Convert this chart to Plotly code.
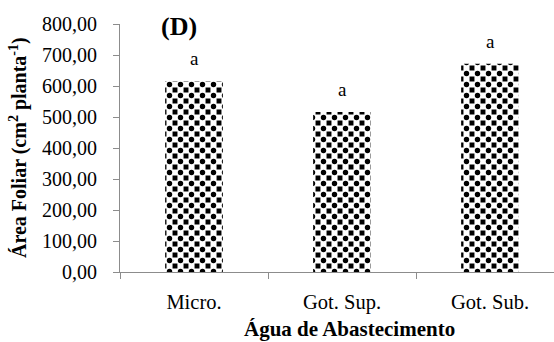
import plotly.graph_objects as go

# Leaf area per water-supply treatment
categories = ["Micro.", "Got. Sup.", "Got. Sub."]
leaf_area = [615, 516, 672]
letters = ["a", "a", "a"]
y_ticks = [0, 100, 200, 300, 400, 500, 600, 700, 800]

W, H = 554, 342
ML, MR, MT, MB = 120, 0, 24, 70
PW = W - ML - MR
PH = H - MT - MB
CAT_PX = 148.0  # pixels per category slot

def px_x(px):
    return (px - ML) / PW

def px_y(py):
    return (H - MB - py) / PH

serif = "Liberation Serif, Times New Roman, serif"
axis_grey = "#8c8c8c"
bar_w = 0.39
tile = 11

fig = go.Figure()

# Checkerboard fill: white crosses on black give squares at the tile corners,
# then a dot pattern fills the tile centres.
fig.add_trace(go.Bar(
    x=categories, y=leaf_area, width=bar_w,
    marker=dict(
        color="black",
        line=dict(width=0),
        pattern=dict(shape="+", fgcolor="white", bgcolor="black",
                     size=tile, solidity=0.8, fillmode="replace",
                     fgopacity=1),
    ),
    hoverinfo="skip",
))
fig.add_trace(go.Bar(
    x=categories, y=leaf_area, width=bar_w,
    marker=dict(
        color="rgba(0,0,0,0)",
        line=dict(width=0),
        pattern=dict(shape=".", fgcolor="black", bgcolor="rgba(0,0,0,0)",
                     size=tile, solidity=0.19, fillmode="overlay",
                     fgopacity=1),
    ),
    hoverinfo="skip",
))

annotations = []
for cat, val, lab in zip(categories, leaf_area, letters):
    annotations.append(dict(
        x=cat, y=val, xref="x", yref="y", text=lab, showarrow=False,
        xanchor="center", yanchor="bottom", yshift=10,
        font=dict(family=serif, size=19, color="black"),
    ))

annotations.append(dict(
    x=px_x(159), y=px_y(26), xref="paper", yref="paper", text="<b>(D)</b>",
    showarrow=False, xanchor="left", yanchor="middle",
    font=dict(family=serif, size=26, color="black"),
))
annotations.append(dict(
    x=px_x(18), y=0.5, xref="paper", yref="paper",
    text="<b>Área Foliar (cm<sup>2</sup> planta<sup>-1</sup>)</b>",
    textangle=-90, showarrow=False, xanchor="center", yanchor="middle",
    font=dict(family=serif, size=20, color="black"),
))
annotations.append(dict(
    x=px_x(349), y=px_y(329), xref="paper", yref="paper",
    text="<b>Água de Abastecimento</b>",
    showarrow=False, xanchor="center", yanchor="middle",
    font=dict(family=serif, size=21, color="black"),
))

fig.update_layout(
    width=W, height=H,
    margin=dict(l=ML, r=MR, t=MT, b=MB, autoexpand=False),
    paper_bgcolor="white", plot_bgcolor="white",
    barmode="overlay",
    showlegend=False,
    separators=",.",
    annotations=annotations,
    font=dict(family=serif, color="black"),
)

fig.update_xaxes(
    type="category",
    range=[-0.5, -0.5 + PW / CAT_PX],
    showgrid=False, zeroline=False,
    showline=True, linecolor=axis_grey, linewidth=1,
    ticks="outside", tickson="boundaries", ticklen=6, tickcolor=axis_grey,
    ticklabelstandoff=11,
    tickfont=dict(family=serif, size=20.5, color="black"),
)
fig.update_yaxes(
    range=[0, 800],
    tickvals=y_ticks, tickformat=".2f",
    showgrid=False, zeroline=False,
    showline=True, linecolor=axis_grey, linewidth=1,
    ticks="outside", ticklen=6, tickcolor=axis_grey,
    ticklabelstandoff=12,
    tickfont=dict(family=serif, size=20, color="black"),
)

fig.write_html("out.html")
